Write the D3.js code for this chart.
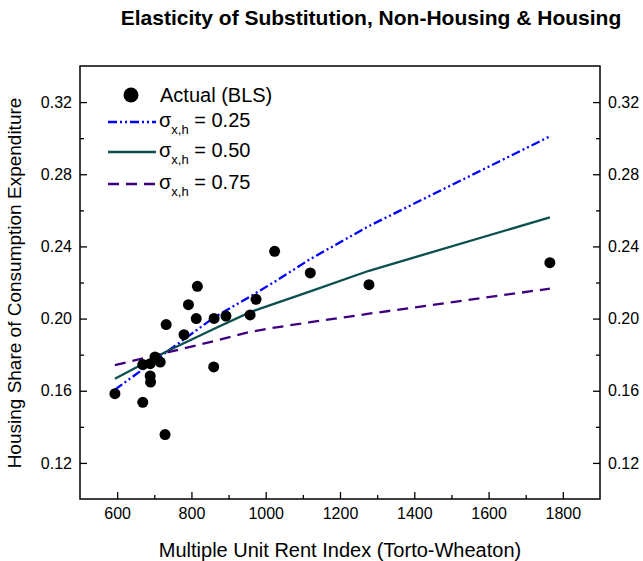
<!DOCTYPE html>
<html><head><meta charset="utf-8">
<script src="https://cdn.jsdelivr.net/npm/d3@7"></script>
<style>
body{margin:0;background:#fff}
text{font-family:Arial,"Liberation Sans",sans-serif;fill:#000}
</style>
</head><body><svg id="c" width="643" height="561"></svg>
<script>
// Observed data (BLS)
const rentIndex = [594,669,729,689,690,669,689,702,716,732,780,792,816,813,861,893,860,958,974,1024,1120,1278,1765];
const housingShare = [0.1584,0.1536,0.1357,0.1682,0.1648,0.1745,0.1750,0.1787,0.1759,0.1967,0.1911,0.2077,0.2179,0.2000,0.2001,0.2014,0.1732,0.2020,0.2107,0.2373,0.2253,0.2188,0.2310];
// Model curves
const modelX   = [594,730,860,958,1024,1120,1278,1765];
const sigma025 = [0.1606,0.1810,0.2005,0.2122,0.2204,0.2330,0.2513,0.3010];
const sigma050 = [0.1667,0.1815,0.1942,0.2036,0.2083,0.2151,0.2265,0.2561];
const sigma075 = [0.1742,0.1810,0.1875,0.1926,0.1950,0.1980,0.2027,0.2166];
// Ticks
const xTicks = [600,800,1000,1200,1400,1600,1800];
const xMinor = [700,900,1100,1300,1500,1700];
const yTicks = [0.12,0.16,0.20,0.24,0.28,0.32];
const yMinor = [0.14,0.18,0.22,0.26,0.30];

const L=80,R=600,T=66,B=499;
const svg=d3.select("#c");
const x=d3.scaleLinear().domain([500,1900]).range([L,R]);
const y=d3.scaleLinear().domain([0.10,0.34]).range([B,T]);
const fmt=d3.format(".2f");

function style(g){
  g.select(".domain").remove();
  g.selectAll(".tick line").attr("stroke","#000").attr("stroke-width",1.3);
  g.selectAll(".tick text").style("font-size","16px").attr("fill","#000");
}
svg.append("g").attr("transform",`translate(0,${B})`)
  .call(d3.axisBottom(x).tickValues(xTicks).tickSize(-7).tickPadding(9).tickFormat(d3.format("d"))).call(style);
svg.append("g").attr("transform",`translate(0,${B})`)
  .call(d3.axisBottom(x).tickValues(xMinor).tickSize(-4).tickFormat("")).call(style);
svg.append("g").attr("transform",`translate(${L},0)`)
  .call(d3.axisLeft(y).tickValues(yTicks).tickSize(-7).tickPadding(8).tickFormat(fmt)).call(style);
svg.append("g").attr("transform",`translate(${L},0)`)
  .call(d3.axisLeft(y).tickValues(yMinor).tickSize(-4).tickFormat("")).call(style);
svg.append("g").attr("transform",`translate(${R},0)`)
  .call(d3.axisRight(y).tickValues(yTicks).tickSize(-7).tickPadding(8).tickFormat(fmt)).call(style);
svg.append("g").attr("transform",`translate(${R},0)`)
  .call(d3.axisRight(y).tickValues(yMinor).tickSize(-4).tickFormat("")).call(style);

svg.append("rect").attr("x",L).attr("y",T).attr("width",R-L).attr("height",B-T)
  .attr("fill","none").attr("stroke","#000").attr("stroke-width",1.5);

const series=[
  {v:sigma025,color:"#0000ff",dash:"9,3,2,3,2,3",label:"0.25"},
  {v:sigma050,color:"#0b4f4f",dash:null,label:"0.50"},
  {v:sigma075,color:"#3f0080",dash:"11,7",label:"0.75"}
];
const line=d3.line().x(d=>x(d[0])).y(d=>y(d[1]));
series.forEach(s=>{
  svg.append("path").attr("d",line(modelX.map((d,i)=>[d,s.v[i]])))
    .attr("fill","none").attr("stroke",s.color).attr("stroke-width",2.3)
    .attr("stroke-dasharray",s.dash);
});

svg.append("g").selectAll("circle").data(rentIndex).join("circle")
  .attr("cx",d=>x(d)).attr("cy",(d,i)=>y(housingShare[i])).attr("r",5.5).attr("fill","#000");

// Legend
const lg=svg.append("g");
lg.append("circle").attr("cx",131).attr("cy",95).attr("r",7.5).attr("fill","#000");
lg.append("text").attr("x",160).attr("y",102).style("font-size","20px").text("Actual (BLS)");
const rows=[122,152,184];
series.forEach((s,i)=>{
  const yy=rows[i];
  lg.append("line").attr("x1",108).attr("x2",156).attr("y1",yy).attr("y2",yy)
    .attr("stroke",s.color).attr("stroke-width",2.3).attr("stroke-dasharray",s.dash);
  const t=lg.append("text").attr("x",159).attr("y",yy+5).style("font-size","20px");
  t.append("tspan").text("σ");
  t.append("tspan").attr("dy",7).style("font-size","13px").text("x,h");
  t.append("tspan").attr("dy",-7).text(" = "+s.label);
});

// Titles
svg.append("text").attr("x",371).attr("y",25).attr("text-anchor","middle")
  .style("font-size","21px").style("font-weight","bold")
  .text("Elasticity of Substitution, Non-Housing & Housing");
svg.append("text").attr("x",340).attr("y",557).attr("text-anchor","middle")
  .style("font-size","20px").text("Multiple Unit Rent Index (Torto-Wheaton)");
svg.append("text").attr("transform","translate(21,283) rotate(-90)").attr("text-anchor","middle")
  .style("font-size","19px").text("Housing Share of Consumption Expenditure");
</script></body></html>
